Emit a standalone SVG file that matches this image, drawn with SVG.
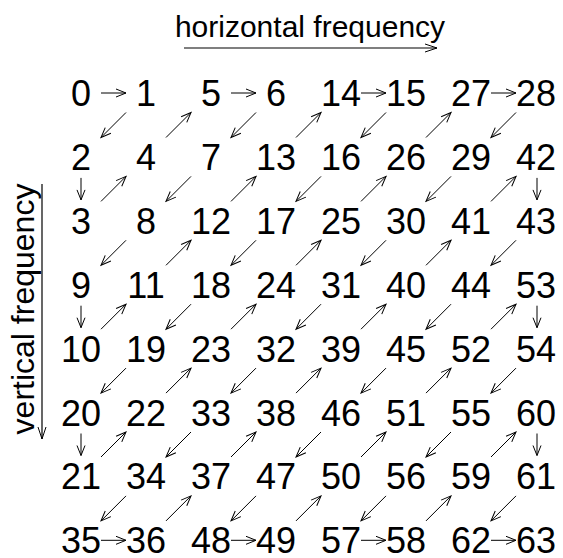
<svg xmlns="http://www.w3.org/2000/svg" width="563" height="558" viewBox="0 0 563 558">
<style>
text{font-family:"Liberation Sans",Arial,sans-serif;fill:#000}
.num{font-size:36px;text-anchor:middle}
.lbl{font-size:30px;text-anchor:middle}
.vl{font-size:32px;text-anchor:middle}
.a{stroke:#000;stroke-width:1;fill:none;marker-end:url(#ah)}
.ax{stroke:#000;stroke-width:1.2;fill:none;marker-end:url(#ahb)}
</style>
<defs>
<marker id="ah" markerUnits="userSpaceOnUse" markerWidth="12" markerHeight="10" refX="10" refY="4" orient="auto" overflow="visible"><path d="M0,0 L10,4 L0,8" fill="none" stroke="#000" stroke-width="1"/></marker>
<marker id="ahb" markerUnits="userSpaceOnUse" markerWidth="14" markerHeight="10" refX="12" refY="4" orient="auto" overflow="visible"><path d="M0,0 L12,4 L0,8" fill="none" stroke="#000" stroke-width="1"/></marker>
</defs>
<g id="axes">
<text class="lbl" x="310" y="37">horizontal frequency</text>
<line class="ax" x1="184" y1="48" x2="437" y2="48"/>
<text class="vl" transform="translate(34,309) rotate(-90)">vertical frequency</text>
<line class="ax" x1="42" y1="184" x2="42" y2="439"/>
</g>
<g id="connectors">
<line class="a" x1="101" y1="93" x2="126" y2="93"/>
<line class="a" x1="126" y1="112.5" x2="101" y2="137.5"/>
<line class="a" x1="81" y1="177.9" x2="81" y2="199.9"/>
<line class="a" x1="101" y1="201.4" x2="126" y2="176.4"/>
<line class="a" x1="166" y1="137.5" x2="191" y2="112.5"/>
<line class="a" x1="231" y1="93" x2="256" y2="93"/>
<line class="a" x1="256" y1="112.5" x2="231" y2="137.5"/>
<line class="a" x1="191" y1="176.4" x2="166" y2="201.4"/>
<line class="a" x1="126" y1="240.3" x2="101" y2="265.3"/>
<line class="a" x1="81" y1="305.7" x2="81" y2="327.7"/>
<line class="a" x1="101" y1="329.2" x2="126" y2="304.2"/>
<line class="a" x1="166" y1="265.3" x2="191" y2="240.3"/>
<line class="a" x1="231" y1="201.4" x2="256" y2="176.4"/>
<line class="a" x1="296" y1="137.5" x2="321" y2="112.5"/>
<line class="a" x1="361" y1="93" x2="386" y2="93"/>
<line class="a" x1="386" y1="112.5" x2="361" y2="137.5"/>
<line class="a" x1="321" y1="176.4" x2="296" y2="201.4"/>
<line class="a" x1="256" y1="240.3" x2="231" y2="265.3"/>
<line class="a" x1="191" y1="304.2" x2="166" y2="329.2"/>
<line class="a" x1="126" y1="368.1" x2="101" y2="393.1"/>
<line class="a" x1="81" y1="433.5" x2="81" y2="455.5"/>
<line class="a" x1="101" y1="457" x2="126" y2="432"/>
<line class="a" x1="166" y1="393.1" x2="191" y2="368.1"/>
<line class="a" x1="231" y1="329.2" x2="256" y2="304.2"/>
<line class="a" x1="296" y1="265.3" x2="321" y2="240.3"/>
<line class="a" x1="361" y1="201.4" x2="386" y2="176.4"/>
<line class="a" x1="426" y1="137.5" x2="451" y2="112.5"/>
<line class="a" x1="491" y1="93" x2="516" y2="93"/>
<line class="a" x1="516" y1="112.5" x2="491" y2="137.5"/>
<line class="a" x1="451" y1="176.4" x2="426" y2="201.4"/>
<line class="a" x1="386" y1="240.3" x2="361" y2="265.3"/>
<line class="a" x1="321" y1="304.2" x2="296" y2="329.2"/>
<line class="a" x1="256" y1="368.1" x2="231" y2="393.1"/>
<line class="a" x1="191" y1="432" x2="166" y2="457"/>
<line class="a" x1="126" y1="495.9" x2="101" y2="520.9"/>
<line class="a" x1="101" y1="540.3" x2="126" y2="540.3"/>
<line class="a" x1="166" y1="520.9" x2="191" y2="495.9"/>
<line class="a" x1="231" y1="457" x2="256" y2="432"/>
<line class="a" x1="296" y1="393.1" x2="321" y2="368.1"/>
<line class="a" x1="361" y1="329.2" x2="386" y2="304.2"/>
<line class="a" x1="426" y1="265.3" x2="451" y2="240.3"/>
<line class="a" x1="491" y1="201.4" x2="516" y2="176.4"/>
<line class="a" x1="537" y1="177.9" x2="537" y2="199.9"/>
<line class="a" x1="516" y1="240.3" x2="491" y2="265.3"/>
<line class="a" x1="451" y1="304.2" x2="426" y2="329.2"/>
<line class="a" x1="386" y1="368.1" x2="361" y2="393.1"/>
<line class="a" x1="321" y1="432" x2="296" y2="457"/>
<line class="a" x1="256" y1="495.9" x2="231" y2="520.9"/>
<line class="a" x1="231" y1="540.3" x2="256" y2="540.3"/>
<line class="a" x1="296" y1="520.9" x2="321" y2="495.9"/>
<line class="a" x1="361" y1="457" x2="386" y2="432"/>
<line class="a" x1="426" y1="393.1" x2="451" y2="368.1"/>
<line class="a" x1="491" y1="329.2" x2="516" y2="304.2"/>
<line class="a" x1="537" y1="305.7" x2="537" y2="327.7"/>
<line class="a" x1="516" y1="368.1" x2="491" y2="393.1"/>
<line class="a" x1="451" y1="432" x2="426" y2="457"/>
<line class="a" x1="386" y1="495.9" x2="361" y2="520.9"/>
<line class="a" x1="361" y1="540.3" x2="386" y2="540.3"/>
<line class="a" x1="426" y1="520.9" x2="451" y2="495.9"/>
<line class="a" x1="491" y1="457" x2="516" y2="432"/>
<line class="a" x1="537" y1="433.5" x2="537" y2="455.5"/>
<line class="a" x1="516" y1="495.9" x2="491" y2="520.9"/>
<line class="a" x1="491" y1="540.3" x2="516" y2="540.3"/>
</g>
<g id="n0"><text class="num" x="81" y="106">0</text></g>
<g id="n1"><text class="num" x="146" y="106">1</text></g>
<g id="n5"><text class="num" x="211" y="106">5</text></g>
<g id="n6"><text class="num" x="276" y="106">6</text></g>
<g id="n14"><text class="num" x="341" y="106">14</text></g>
<g id="n15"><text class="num" x="406" y="106">15</text></g>
<g id="n27"><text class="num" x="471" y="106">27</text></g>
<g id="n28"><text class="num" x="536" y="106">28</text></g>
<g id="n2"><text class="num" x="81" y="169.9">2</text></g>
<g id="n4"><text class="num" x="146" y="169.9">4</text></g>
<g id="n7"><text class="num" x="211" y="169.9">7</text></g>
<g id="n13"><text class="num" x="276" y="169.9">13</text></g>
<g id="n16"><text class="num" x="341" y="169.9">16</text></g>
<g id="n26"><text class="num" x="406" y="169.9">26</text></g>
<g id="n29"><text class="num" x="471" y="169.9">29</text></g>
<g id="n42"><text class="num" x="536" y="169.9">42</text></g>
<g id="n3"><text class="num" x="81" y="233.8">3</text></g>
<g id="n8"><text class="num" x="146" y="233.8">8</text></g>
<g id="n12"><text class="num" x="211" y="233.8">12</text></g>
<g id="n17"><text class="num" x="276" y="233.8">17</text></g>
<g id="n25"><text class="num" x="341" y="233.8">25</text></g>
<g id="n30"><text class="num" x="406" y="233.8">30</text></g>
<g id="n41"><text class="num" x="471" y="233.8">41</text></g>
<g id="n43"><text class="num" x="536" y="233.8">43</text></g>
<g id="n9"><text class="num" x="81" y="297.7">9</text></g>
<g id="n11"><text class="num" x="146" y="297.7">11</text></g>
<g id="n18"><text class="num" x="211" y="297.7">18</text></g>
<g id="n24"><text class="num" x="276" y="297.7">24</text></g>
<g id="n31"><text class="num" x="341" y="297.7">31</text></g>
<g id="n40"><text class="num" x="406" y="297.7">40</text></g>
<g id="n44"><text class="num" x="471" y="297.7">44</text></g>
<g id="n53"><text class="num" x="536" y="297.7">53</text></g>
<g id="n10"><text class="num" x="81" y="361.6">10</text></g>
<g id="n19"><text class="num" x="146" y="361.6">19</text></g>
<g id="n23"><text class="num" x="211" y="361.6">23</text></g>
<g id="n32"><text class="num" x="276" y="361.6">32</text></g>
<g id="n39"><text class="num" x="341" y="361.6">39</text></g>
<g id="n45"><text class="num" x="406" y="361.6">45</text></g>
<g id="n52"><text class="num" x="471" y="361.6">52</text></g>
<g id="n54"><text class="num" x="536" y="361.6">54</text></g>
<g id="n20"><text class="num" x="81" y="425.5">20</text></g>
<g id="n22"><text class="num" x="146" y="425.5">22</text></g>
<g id="n33"><text class="num" x="211" y="425.5">33</text></g>
<g id="n38"><text class="num" x="276" y="425.5">38</text></g>
<g id="n46"><text class="num" x="341" y="425.5">46</text></g>
<g id="n51"><text class="num" x="406" y="425.5">51</text></g>
<g id="n55"><text class="num" x="471" y="425.5">55</text></g>
<g id="n60"><text class="num" x="536" y="425.5">60</text></g>
<g id="n21"><text class="num" x="81" y="489.4">21</text></g>
<g id="n34"><text class="num" x="146" y="489.4">34</text></g>
<g id="n37"><text class="num" x="211" y="489.4">37</text></g>
<g id="n47"><text class="num" x="276" y="489.4">47</text></g>
<g id="n50"><text class="num" x="341" y="489.4">50</text></g>
<g id="n56"><text class="num" x="406" y="489.4">56</text></g>
<g id="n59"><text class="num" x="471" y="489.4">59</text></g>
<g id="n61"><text class="num" x="536" y="489.4">61</text></g>
<g id="n35"><text class="num" x="81" y="553.3">35</text></g>
<g id="n36"><text class="num" x="146" y="553.3">36</text></g>
<g id="n48"><text class="num" x="211" y="553.3">48</text></g>
<g id="n49"><text class="num" x="276" y="553.3">49</text></g>
<g id="n57"><text class="num" x="341" y="553.3">57</text></g>
<g id="n58"><text class="num" x="406" y="553.3">58</text></g>
<g id="n62"><text class="num" x="471" y="553.3">62</text></g>
<g id="n63"><text class="num" x="536" y="553.3">63</text></g>
</svg>
